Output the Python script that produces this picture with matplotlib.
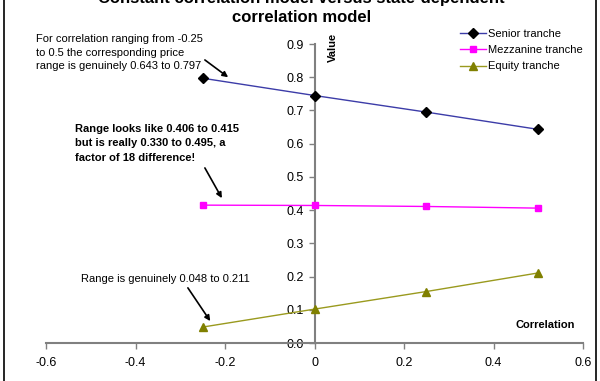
import matplotlib.pyplot as plt
from matplotlib.patches import Rectangle

plt.rcParams['font.family'] = ['Liberation Sans', 'DejaVu Sans']

correlation = [-0.25, 0.0, 0.25, 0.5]
senior = [0.797, 0.745, 0.695, 0.643]
mezzanine = [0.415, 0.414, 0.411, 0.406]
equity = [0.048, 0.102, 0.155, 0.211]

xticks = [-0.6, -0.4, -0.2, 0, 0.2, 0.4, 0.6]
xticklabels = ['-0.6', '-0.4', '-0.2', '0', '0.2', '0.4', '0.6']
yticks = [0.0, 0.1, 0.2, 0.3, 0.4, 0.5, 0.6, 0.7, 0.8, 0.9]

GRAY = '#808080'
ARROW = dict(arrowstyle='-|>', color='black', lw=1.2, shrinkA=0, shrinkB=0, mutation_scale=8)


def arrow(ax, start, end):
    ax.annotate('', xy=end, xytext=start, arrowprops=ARROW, annotation_clip=False)


fig = plt.figure(figsize=(6.0, 3.81), dpi=100)
ax = fig.add_axes([0.0767, 0.0997, 0.895, 0.7848])

ax.plot(correlation, senior, color='#3c3ca8', lw=1, marker='D', ms=5,
        mfc='black', mec='black', label='Senior tranche', zorder=3)
ax.plot(correlation, mezzanine, color='#ff00ff', lw=1, marker='s', ms=5,
        mfc='#ff00ff', mec='#ff00ff', label='Mezzanine tranche', zorder=3)
ax.plot(correlation, equity, color='#9a9a1e', lw=1, marker='^', ms=6,
        mfc='#808000', mec='#808000', label='Equity tranche', zorder=3)

ax.set_xlim(-0.6, 0.6)
ax.set_ylim(0, 0.9)
ax.spines['left'].set_position(('data', 0))
ax.spines['bottom'].set_position(('data', 0))
ax.spines['right'].set_visible(False)
ax.spines['top'].set_visible(False)
for s in ('left', 'bottom'):
    ax.spines[s].set_color(GRAY)
    ax.spines[s].set_linewidth(1.5)
ax.set_xticks(xticks)
ax.set_xticklabels(xticklabels)
ax.set_yticks(yticks)
ax.set_yticklabels([f'{v:.1f}' for v in yticks])
ax.tick_params(axis='both', colors='black', labelsize=9, length=4, width=1, direction='out')
ax.tick_params(axis='both', color=GRAY)
ax.tick_params(axis='x', pad=6)

ax.text(0.03, 0.933, 'Value', rotation=90, fontsize=8, fontweight='bold', ha='left', va='top')
ax.text(0.582, 0.054, 'Correlation', fontsize=8, fontweight='bold', ha='right', va='center')

fig.text(0.503, 1.023, 'Constant correlation model versus state-dependent\ncorrelation model',
         ha='center', va='top', fontsize=12, fontweight='bold', linespacing=1.3)

ax.legend(loc='upper right', bbox_to_anchor=(1.018, 1.083), frameon=False, fontsize=8,
          handlelength=2.3, handletextpad=0.2, labelspacing=0.55)

ax.text(-0.622, 0.93, 'For correlation ranging from -0.25\nto 0.5 the corresponding price\nrange is genuinely 0.643 to 0.797',
        fontsize=8, ha='left', va='top', linespacing=1.45)
arrow(ax, (-0.245, 0.852), (-0.193, 0.80))

ax.text(-0.535, 0.66, 'Range looks like 0.406 to 0.415\nbut is really 0.330 to 0.495, a\nfactor of 18 difference!',
        fontsize=8, fontweight='bold', ha='left', va='top', linespacing=1.55)
arrow(ax, (-0.245, 0.527), (-0.207, 0.436))

ax.text(-0.522, 0.193, 'Range is genuinely 0.048 to 0.211', fontsize=8, ha='left', va='center')
arrow(ax, (-0.283, 0.166), (-0.233, 0.066))

fig.add_artist(Rectangle((0.006, -0.01), 0.988, 1.02, transform=fig.transFigure,
                         fill=False, edgecolor='black', lw=1.2))

fig.savefig('out.png', dpi=100)
